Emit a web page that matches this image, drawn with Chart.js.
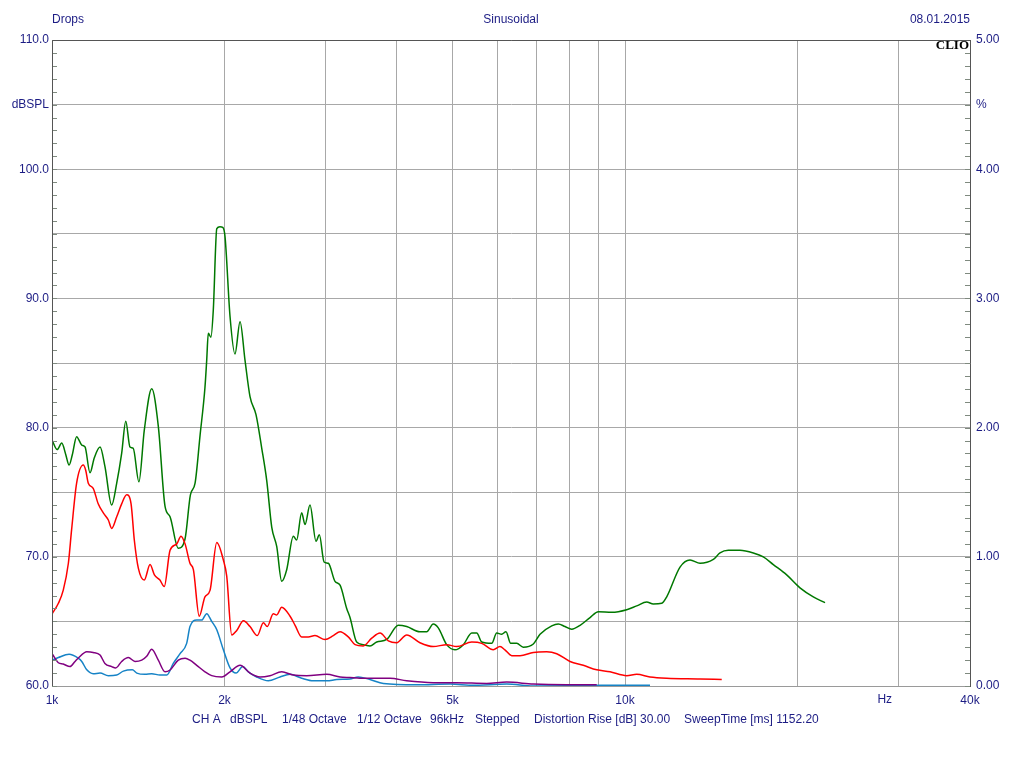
<!DOCTYPE html>
<html>
<head>
<meta charset="utf-8">
<title>Drops - Sinusoidal</title>
<script src="https://cdn.jsdelivr.net/npm/chart.js@4/dist/chart.umd.min.js"></script>
<style>
  html, body { margin: 0; padding: 0; background: #fff; }
  canvas { display: block; }
</style>
</head>
<body>
<canvas id="chart" width="1024" height="768"></canvas>
<script>
// fundamental (green), dBSPL
const greenFreq = [1001, 1021, 1040, 1057, 1071, 1085, 1104, 1127, 1142, 1165, 1185, 1213, 1237, 1271, 1297, 1323, 1345, 1368, 1386, 1418,
  1449, 1493, 1533, 1575, 1607, 1661, 1707, 1744, 1777, 1813, 1849, 1862, 1874, 1894, 1912, 1939, 1964, 1986, 2004, 2045,
  2086, 2129, 2172, 2216, 2270, 2323, 2370, 2418, 2467, 2517, 2568, 2637, 2673, 2727, 2764, 2820, 2889, 2928, 2984, 3036,
  3118, 3182, 3268, 3312, 3402, 3493, 3589, 3687, 3838, 4021, 4159, 4387, 4507, 4628, 4722, 4884, 5050, 5223, 5402, 5511,
  5623, 5853, 5971, 6092, 6198, 6316, 6471, 6644, 6918, 7107, 7449, 7648, 7857, 8072, 8348, 8689, 8984, 9480, 10069, 10481,
  10911, 11203, 11590, 11825, 12474, 12985, 13520, 14260, 14648, 15147, 15873, 16747, 17433, 18147, 19149, 20200, 21310, 22340];
const greenDb = [79.0, 78.3, 78.8, 77.9, 77.1, 77.9, 79.3, 78.65, 78.5, 76.5, 77.65, 78.5, 77.0, 74.0, 75.7, 78.0, 80.5, 78.5, 78.4, 75.8,
  79.8, 83.0, 80.1, 73.9, 73.1, 70.66, 71.4, 74.8, 75.7, 79.4, 83.1, 85.2, 87.3, 87.0, 89.1, 95.4, 95.55, 95.5, 94.8, 88.6,
  85.7, 88.2, 85.2, 82.4, 81.0, 78.4, 75.9, 72.3, 70.8, 68.1, 69.0, 71.6, 71.3, 73.4, 72.5, 74.0, 71.2, 71.7, 69.6, 69.5,
  68.1, 67.8, 66.0, 65.3, 63.4, 63.2, 63.1, 63.4, 63.6, 64.7, 64.6, 64.2, 64.2, 64.8, 64.5, 63.2, 62.8, 63.2, 64.1, 64.1,
  63.4, 63.3, 64.1, 64.0, 64.2, 63.3, 63.3, 63.0, 63.25, 64.0, 64.65, 64.8, 64.6, 64.4, 64.7, 65.3, 65.75, 65.7, 65.9, 66.2,
  66.5, 66.35, 66.4, 66.9, 69.2, 69.75, 69.5, 69.8, 70.3, 70.5, 70.5, 70.3, 70.0, 69.4, 68.6, 67.6, 66.9, 66.45];

// 2nd harmonic (red)
const redFreq = [1001, 1026, 1046, 1068, 1082, 1104, 1134, 1145, 1157, 1180, 1204, 1229, 1254, 1271, 1297, 1323, 1350, 1374, 1392, 1415,
  1449, 1483, 1509, 1543, 1570, 1607, 1651, 1679, 1707, 1741, 1765, 1807, 1849, 1887, 1939, 1991, 2018, 2059, 2101, 2158,
  2216, 2282, 2338, 2375, 2433, 2467, 2517, 2603, 2656, 2727, 2801, 2877, 2995, 3097, 3182, 3289, 3380, 3493, 3614, 3737,
  3863, 3995, 4159, 4387, 4628, 4884, 5085, 5402, 5623, 5890, 6050, 6172, 6343, 6558, 6918, 7300, 7600, 8017, 8456, 8925,
  9415, 10069, 10481, 11055, 11825, 13520, 14750];
const redDb = [65.6, 66.4, 67.4, 69.5, 72.1, 75.7, 77.1, 76.7, 75.7, 75.3, 74.1, 73.4, 72.85, 72.2, 73.1, 74.1, 74.8, 74.1, 71.3, 69.1,
  68.2, 69.4, 68.6, 68.2, 67.7, 70.5, 71.0, 71.6, 71.0, 69.5, 69.0, 65.4, 66.9, 67.4, 71.1, 69.75, 68.5, 63.95, 64.3, 65.05,
  64.6, 63.9, 64.9, 64.6, 65.6, 65.5, 66.1, 65.4, 64.7, 63.8, 63.8, 63.9, 63.6, 63.9, 64.2, 63.8, 63.2, 63.1, 63.7, 64.1,
  63.5, 63.35, 63.95, 63.35, 63.05, 63.2, 63.05, 63.4, 63.3, 62.8, 63.05, 62.8, 62.35, 62.35, 62.6, 62.65, 62.5, 61.9, 61.6, 61.25,
  61.1, 60.8, 60.9, 60.7, 60.6, 60.55, 60.5];

// 3rd harmonic (purple)
const purpleFreq = [1001, 1026, 1046, 1075, 1097, 1111, 1150, 1180, 1213, 1237, 1271, 1292, 1323, 1359, 1396, 1434, 1463, 1493, 1533, 1575,
  1607, 1661, 1707, 1741, 1789, 1849, 1900, 1978, 2045, 2129, 2216, 2307, 2401, 2517, 2637, 2783, 3016, 3182, 3312, 3447,
  3890, 4159, 4628, 5085, 5735, 6216, 6918, 7910, 8925];
const purpleDb = [62.48, 61.8, 61.7, 61.5, 61.9, 62.15, 62.65, 62.6, 62.4, 61.75, 61.5, 61.4, 61.9, 62.2, 61.9, 62.0, 62.3, 62.85, 62.0, 61.1,
  61.24, 62.0, 62.15, 62.0, 61.6, 61.1, 60.8, 60.7, 61.1, 61.6, 61.0, 60.7, 60.8, 61.1, 60.85, 60.8, 60.9, 60.7, 60.65, 60.6,
  60.6, 60.4, 60.26, 60.26, 60.2, 60.3, 60.15, 60.1, 60.1];

// blue curve
const blueFreq = [1001, 1026, 1071, 1111, 1127, 1150, 1180, 1213, 1254, 1297, 1332, 1381, 1406, 1453, 1493, 1543, 1586, 1628, 1673, 1718,
  1741, 1789, 1825, 1862, 1900, 1939, 1991, 2045, 2095, 2152, 2201, 2276, 2385, 2500, 2603, 2727, 2858, 3016, 3140, 3312,
  3424, 3589, 3787, 4330, 4950, 5437, 6216, 6918, 9100, 11055];
const blueDb = [62.0, 62.2, 62.45, 62.15, 61.9, 61.25, 60.95, 61.0, 60.8, 60.85, 61.15, 61.25, 61.0, 60.9, 60.95, 60.85, 60.85, 61.75, 62.5, 63.3,
  64.6, 65.1, 65.1, 65.6, 65.0, 64.35, 62.8, 61.4, 61.0, 61.5, 61.1, 60.7, 60.4, 60.7, 60.9, 60.6, 60.4, 60.4, 60.5, 60.55,
  60.7, 60.5, 60.2, 60.1, 60.15, 60.05, 60.15, 60.0, 60.05, 60.05];

// axes
const xGridValues = [1000, 2000, 3000, 4000, 5000, 6000, 7000, 8000, 9000, 10000, 20000, 30000, 40000];
const xTickLabels = { 1000: '1k', 2000: '2k', 5000: '5k', 10000: '10k', 40000: '40k' };
const dbMin = 60, dbMax = 110;
const pctMin = 0, pctMax = 5;

const TEXT = '#1c1c84';
const FONT = '"Liberation Sans", Arial, sans-serif';

const toPoints = (xs, ys) => xs.map((x, i) => ({ x: x, y: ys[i] }));

// header, footer, inward ticks, CLIO mark
const decorations = {
    id: 'decorations',
    afterDraw(chart) {
        const ctx = chart.ctx;
        const area = chart.chartArea;
        const yL = chart.scales.y;
        const yR = chart.scales.y1;
        const x = chart.scales.x;
        ctx.save();
        // inward minor ticks
        ctx.strokeStyle = '#7f8a7f';
        ctx.lineWidth = 1;
        ctx.beginPath();
        for (let v = dbMin; v <= dbMax; v++) {
            const py = Math.round(yL.getPixelForValue(v)) + 0.5;
            ctx.moveTo(area.left, py);
            ctx.lineTo(area.left + 5, py);
        }
        for (let v = 0; v <= 50; v++) {
            const py = Math.round(yR.getPixelForValue(v / 10)) + 0.5;
            ctx.moveTo(area.right - 5, py);
            ctx.lineTo(area.right, py);
        }
        ctx.stroke();
        // frame
        ctx.strokeStyle = '#555';
        ctx.beginPath();
        ctx.moveTo(area.left + 0.5, area.bottom);
        ctx.lineTo(area.left + 0.5, area.top + 0.5);
        ctx.lineTo(area.right, area.top + 0.5);
        ctx.stroke();

        ctx.fillStyle = TEXT;
        ctx.font = '12px ' + FONT;
        ctx.textBaseline = 'middle';
        ctx.textAlign = 'left';
        ctx.fillText('Drops', 52, 20);
        ctx.textAlign = 'center';
        ctx.fillText('Sinusoidal', 511, 20);
        ctx.textAlign = 'right';
        ctx.fillText('08.01.2015', 970, 20);

        ctx.textAlign = 'center';
        ctx.fillText('Hz', x.getPixelForValue(28400), 700);

        ctx.textAlign = 'left';
        const footer = [
            ['CH A', 192], ['dBSPL', 230], ['1/48 Octave', 282], ['1/12 Octave', 357],
            ['96kHz', 430], ['Stepped', 475], ['Distortion Rise [dB] 30.00', 534],
            ['SweepTime [ms] 1152.20', 684]
        ];
        footer.forEach(([t, px]) => ctx.fillText(t, px, 720));

        ctx.fillStyle = '#000';
        ctx.font = 'bold 13px "Liberation Serif", "Times New Roman", serif';
        ctx.textAlign = 'right';
        ctx.fillText('CLIO', 969, 46);
        ctx.restore();
    }
};

const line = (data, color) => ({
    data: data,
    borderColor: color,
    borderWidth: 1.5,
    pointRadius: 0,
    fill: false,
    cubicInterpolationMode: 'monotone',
    yAxisID: 'y'
});

new Chart(document.getElementById('chart'), {
    type: 'line',
    data: {
        datasets: [
            line(toPoints(purpleFreq, purpleDb), '#800080'),
            line(toPoints(blueFreq, blueDb), '#1683c6'),
            line(toPoints(redFreq, redDb), '#ff0000'),
            line(toPoints(greenFreq, greenDb), '#007800')
        ]
    },
    options: {
        responsive: false,
        animation: false,
        devicePixelRatio: 1,
        layout: { padding: { top: 40, left: 0, right: 0, bottom: 0 } },
        plugins: { legend: { display: false }, tooltip: { enabled: false } },
        scales: {
            x: {
                type: 'logarithmic',
                min: 1000,
                max: 40000,
                afterBuildTicks: s => { s.ticks = xGridValues.map(v => ({ value: v })); },
                afterFit: s => { s.height = 82; },
                grid: { color: '#a8a8a8', drawTicks: false },
                border: { display: true, color: '#9a9a9a' },
                ticks: {
                    autoSkip: false, maxRotation: 0, padding: 7,
                    color: TEXT, font: { size: 12, family: FONT },
                    callback: v => xTickLabels[v] || ''
                }
            },
            y: {
                position: 'left',
                min: dbMin,
                max: dbMax,
                afterBuildTicks: s => {
                    const t = [];
                    for (let v = dbMin; v <= dbMax; v++) t.push({ value: v });
                    s.ticks = t;
                },
                afterFit: s => { s.width = 52; },
                grid: {
                    drawTicks: false,
                    color: c => (c.tick && c.tick.value % 5 === 0) ? '#a8a8a8' : 'rgba(0,0,0,0)'
                },
                border: { display: true, color: '#555' },
                ticks: {
                    autoSkip: false, padding: 3,
                    color: TEXT, font: { size: 12, family: FONT },
                    callback: v => v === 105 ? 'dBSPL' : (v % 10 === 0 ? v.toFixed(1) : '')
                }
            },
            y1: {
                position: 'right',
                min: pctMin,
                max: pctMax,
                afterBuildTicks: s => {
                    const t = [];
                    for (let v = 0; v <= 50; v++) t.push({ value: v / 10 });
                    s.ticks = t;
                },
                afterFit: s => { s.width = 54; },
                grid: { drawOnChartArea: false, drawTicks: false },
                border: { display: true, color: '#555' },
                ticks: {
                    autoSkip: false, padding: 6,
                    color: TEXT, font: { size: 12, family: FONT },
                    callback: v => {
                        const k = Math.round(v * 10);
                        if (k === 45) return '%';
                        return k % 10 === 0 ? v.toFixed(2) : '';
                    }
                }
            }
        }
    },
    plugins: [decorations]
});
</script>
</body>
</html>
